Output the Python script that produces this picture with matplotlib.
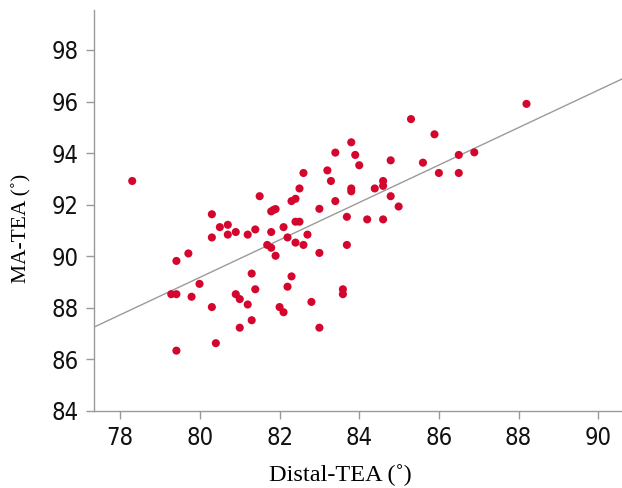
import numpy as np
import matplotlib
matplotlib.use("Agg")
import matplotlib.pyplot as plt
from matplotlib import font_manager
from matplotlib.font_manager import FontProperties

# Distal-TEA (x) and MA-TEA (y), degrees
distal_tea = [78.30, 79.41, 79.71, 79.28, 79.41, 79.41, 79.79, 79.99, 80.30, 80.30,
              80.30, 80.50, 80.70, 80.70, 80.90, 80.90, 81.00, 81.00, 80.40, 81.20,
              81.20, 81.30, 81.30, 81.39, 81.39, 81.50, 81.69, 81.79, 81.79, 81.79,
              81.90, 81.85, 81.90, 82.00, 82.10, 82.10, 82.20, 82.20, 82.30, 82.30,
              82.40, 82.40, 82.50, 82.40, 82.50, 82.60, 82.60, 82.70, 82.80, 83.00,
              83.00, 83.00, 83.20, 83.29, 83.40, 83.40, 83.59, 83.59, 83.69, 83.69,
              83.80, 83.80, 83.80, 83.90, 84.00, 84.20, 84.39, 84.60, 84.60, 84.60,
              84.79, 84.79, 84.99, 85.30, 85.60, 85.89, 86.00, 86.50, 86.50, 86.89,
              88.20]
ma_tea = [92.92, 89.82, 90.11, 88.53, 88.53, 86.34, 88.43, 88.93, 91.63, 90.73,
          88.03, 91.13, 91.22, 90.84, 90.94, 88.53, 88.34, 87.23, 86.63, 90.84,
          88.13, 87.52, 89.33, 88.72, 91.04, 92.33, 90.44, 90.33, 90.94, 91.74,
          91.83, 91.80, 90.02, 88.03, 87.83, 91.13, 90.73, 88.82, 89.22, 92.14,
          92.23, 91.34, 91.34, 90.53, 92.63, 93.23, 90.44, 90.84, 88.23, 91.84,
          90.13, 87.23, 93.33, 92.92, 94.02, 92.14, 88.72, 88.53, 91.53, 90.44,
          94.42, 92.63, 92.52, 93.93, 93.53, 91.43, 92.63, 92.92, 92.73, 91.43,
          93.72, 92.33, 91.93, 95.32, 93.63, 94.73, 93.23, 93.93, 93.23, 94.03,
          95.91]

x_ticks = [78, 80, 82, 84, 86, 88, 90]
y_ticks = [84, 86, 88, 90, 92, 94, 96, 98]

# look for a condensed sans for the tick numbers
narrow = None
for f in font_manager.fontManager.ttflist:
    fn = f.fname.lower()
    if "sansnarrow-regular" in fn or "sanscondensed.ttf" in fn:
        narrow = f.fname
        break
if narrow:
    tick_fp = FontProperties(fname=narrow, size=17)
else:
    tick_fp = FontProperties(family=["Liberation Sans", "DejaVu Sans"], size=16)
label_font = ["Liberation Serif", "DejaVu Serif"]

fig = plt.figure(figsize=(6.22, 4.88), dpi=100)
ax = fig.add_axes([0.1511, 0.1578, 0.849, 0.8217])

x = np.array(distal_tea)
y = np.array(ma_tea)
slope, intercept = np.polyfit(x, y, 1)

xlim = (77.34, 90.6)
ax.set_xlim(xlim)
ax.set_ylim(84, 99.55)

xs = np.array(xlim)
ax.plot(xs, slope * xs + intercept, color="#9a9a9a", linewidth=1.0, zorder=1)
ax.scatter(x, y, s=34, color="#d4062e", edgecolors="none", zorder=2)

for side in ["top", "right"]:
    ax.spines[side].set_visible(False)
for side in ["left", "bottom"]:
    ax.spines[side].set_color("#9a9a9a")
    ax.spines[side].set_linewidth(1.0)

ax.set_xticks(x_ticks)
ax.set_yticks(y_ticks)
ax.tick_params(direction="out", length=6, width=1.0, color="#9a9a9a",
               labelcolor="#111111", pad=5)
for lab in ax.get_xticklabels() + ax.get_yticklabels():
    lab.set_fontproperties(tick_fp)

fig.text(0.548, 0.027, "Distal-TEA (˚)", family=label_font, fontsize=17.5,
         ha="center", va="center")
fig.text(0.035, 0.533, "MA-TEA (˚)", family=label_font, fontsize=15.5,
         ha="center", va="center", rotation=90)

fig.savefig("out.png", dpi=100)
